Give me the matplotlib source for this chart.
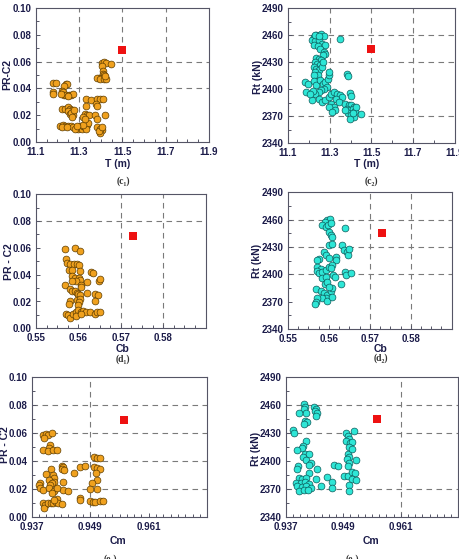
import numpy as np
import matplotlib
matplotlib.use("Agg")
import matplotlib.pyplot as plt
from matplotlib.ticker import AutoMinorLocator, FormatStrFormatter

plt.rcParams['font.family'] = ['Liberation Sans', 'DejaVu Sans']
plt.rcParams['font.weight'] = 'bold'

W, H = 459, 559

# ---- data ----
# (c1) draught T vs PR-C2
c1_T = [11.408, 11.417, 11.425, 11.448, 11.405, 11.410, 11.412, 11.417, 11.391, 11.382, 11.397, 11.417, 11.425, 11.420,
        11.178, 11.192, 11.238, 11.246, 11.232, 11.180, 11.178, 11.222, 11.228, 11.232, 11.242, 11.255, 11.265, 11.272, 11.218, 11.250,
        11.220, 11.235, 11.251, 11.258, 11.266, 11.251, 11.258, 11.274, 11.262, 11.277, 11.268,
        11.212, 11.228, 11.235, 11.251, 11.263, 11.274, 11.289, 11.297, 11.305, 11.312, 11.320, 11.328, 11.338, 11.343, 11.332,
        11.317, 11.282, 11.292, 11.220, 11.245,
        11.332, 11.354, 11.385, 11.397, 11.409, 11.378, 11.382, 11.332, 11.328, 11.338, 11.348, 11.320, 11.328, 11.374, 11.382,
        11.420, 11.385, 11.397, 11.405, 11.397, 11.391, 11.406]
c1_PR = [0.059, 0.060, 0.059, 0.058, 0.057, 0.053, 0.051, 0.050, 0.048, 0.048, 0.047, 0.047, 0.047, 0.049,
         0.044, 0.044, 0.043, 0.043, 0.042, 0.037, 0.036, 0.038, 0.037, 0.035, 0.035, 0.035, 0.035, 0.036, 0.036, 0.034,
         0.025, 0.025, 0.026, 0.025, 0.024, 0.023, 0.021, 0.020, 0.022, 0.024, 0.019,
         0.012, 0.013, 0.012, 0.012, 0.012, 0.011, 0.011, 0.010, 0.012, 0.010, 0.012, 0.011, 0.013, 0.014, 0.010,
         0.013, 0.010, 0.012, 0.011, 0.011,
         0.032, 0.031, 0.032, 0.032, 0.032, 0.028, 0.027, 0.027, 0.021, 0.020, 0.020, 0.019, 0.0175, 0.020, 0.0175,
         0.020, 0.011, 0.010, 0.009, 0.007, 0.008, 0.011]

# (c2) draught T vs resistance Rt
c2_T = [11.223, 11.234, 11.260, 11.271, 11.215, 11.231, 11.247, 11.263, 11.276, 11.223, 11.244, 11.255, 11.271, 11.279,
        11.268, 11.228, 11.250, 11.348,
        11.234, 11.247, 11.260, 11.228, 11.239, 11.255, 11.223, 11.234, 11.247, 11.231, 11.244, 11.223, 11.263, 11.266,
        11.183, 11.196, 11.186, 11.223, 11.234, 11.255, 11.266, 11.279, 11.292, 11.298, 11.298, 11.287, 11.271, 11.260,
        11.247, 11.231, 11.218, 11.250, 11.263, 11.279, 11.295, 11.308, 11.319, 11.335, 11.351, 11.359, 11.330, 11.343,
        11.308, 11.319, 11.327, 11.298, 11.311, 11.216, 11.205,
        11.375, 11.391, 11.404, 11.415, 11.383, 11.399, 11.410, 11.423, 11.388, 11.404, 11.415, 11.399, 11.375, 11.426,
        11.450, 11.410, 11.383, 11.388, 11.399, 11.404]
c2_Rt = [2457.7, 2459.6, 2461.4, 2458.8, 2454.0, 2452.9, 2454.0, 2450.3, 2449.2, 2448.5, 2447.7, 2444.0, 2441.0, 2439.2,
         2437.4, 2460.0, 2459.0, 2455.9,
         2434.4, 2433.7, 2431.8, 2430.0, 2428.1, 2427.0, 2424.4, 2422.5, 2420.7, 2418.8, 2415.9, 2415.1, 2424.4, 2430.0,
         2407.7, 2405.9, 2396.6, 2408.5, 2404.0, 2409.6, 2405.9, 2407.7, 2411.4, 2415.1, 2418.8, 2402.2, 2400.3, 2398.5,
         2396.6, 2394.8, 2397.4, 2389.2, 2385.5, 2387.4, 2391.1, 2394.8, 2396.6, 2394.8, 2392.9, 2391.1, 2389.2, 2385.5,
         2383.7, 2380.0, 2376.2, 2380.0, 2374.4, 2388.0, 2394.0,
         2383.7, 2381.8, 2382.5, 2380.0, 2378.1, 2376.2, 2377.4, 2375.1, 2373.6, 2371.4, 2368.8, 2367.0, 2376.2, 2380.0,
         2372.5, 2373.0, 2417.0, 2414.4, 2395.5, 2392.2]

# (d1) block coefficient Cb vs PR-C2
d1_Cb = [0.5568, 0.5591, 0.5603, 0.5570, 0.5572, 0.5580, 0.5589, 0.5597, 0.5602, 0.5578, 0.5586, 0.5603, 0.5630, 0.5634,
         0.5584, 0.5591, 0.5602, 0.5603, 0.5595, 0.5584, 0.5620, 0.5648, 0.5652, 0.5568, 0.5580, 0.5584, 0.5591, 0.5597,
         0.5607, 0.5605, 0.5599, 0.5603, 0.5620, 0.5638, 0.5646, 0.5639, 0.5580, 0.5578, 0.5597, 0.5603, 0.5601, 0.5599,
         0.5570, 0.5576, 0.5580, 0.5587, 0.5594, 0.5599, 0.5605, 0.5611, 0.5617, 0.5628, 0.5638, 0.5644, 0.5652, 0.5594,
         0.5607]
d1_PR = [0.0593, 0.0600, 0.0575, 0.0520, 0.0488, 0.0483, 0.0483, 0.0480, 0.0475, 0.0435, 0.0435, 0.0430, 0.0420, 0.0410,
         0.0388, 0.0375, 0.0375, 0.0360, 0.0350, 0.0350, 0.0345, 0.0355, 0.0365, 0.0320, 0.0295, 0.0280, 0.0275, 0.0260,
         0.0325, 0.0310, 0.0255, 0.0250, 0.0260, 0.0255, 0.0250, 0.0200, 0.0200, 0.0180, 0.0210, 0.0220, 0.0195, 0.0175,
         0.0110, 0.0100, 0.0075, 0.0110, 0.0125, 0.0140, 0.0125, 0.0130, 0.0125, 0.0125, 0.0110, 0.0125, 0.0125, 0.0095,
         0.0110]

# (d2) block coefficient Cb vs Rt
d2_Cb = [0.5596, 0.5602, 0.5590, 0.5584, 0.5592, 0.5598, 0.5604, 0.5600, 0.5604, 0.5608, 0.5639, 0.5600, 0.5608, 0.5588,
         0.5592, 0.5576, 0.5570, 0.5601, 0.5618, 0.5617, 0.5631, 0.5636, 0.5643, 0.5647, 0.5649, 0.5572, 0.5580, 0.5572,
         0.5576, 0.5584, 0.5592, 0.5599, 0.5608, 0.5604, 0.5582, 0.5592, 0.5610, 0.5615, 0.5640, 0.5641, 0.5653, 0.5629,
         0.5590, 0.5596, 0.5568, 0.5580, 0.5588, 0.5596, 0.5604, 0.5608, 0.5600, 0.5592, 0.5582, 0.5572, 0.5568, 0.5566,
         0.5596, 0.5607]
d2_Rt = [2460.0, 2461.0, 2457.5, 2454.0, 2452.0, 2454.0, 2456.0, 2446.6, 2443.0, 2441.0, 2451.0, 2432.0, 2433.8, 2424.7,
         2421.0, 2416.6, 2415.5, 2418.0, 2419.0, 2415.5, 2432.0, 2426.5, 2424.7, 2421.0, 2428.0, 2408.0, 2406.0, 2403.5,
         2401.0, 2402.0, 2404.6, 2408.0, 2410.0, 2406.4, 2395.5, 2397.3, 2399.0, 2397.3, 2402.0, 2399.0, 2401.0, 2389.0,
         2389.0, 2391.8, 2383.8, 2381.6, 2379.0, 2377.2, 2381.6, 2384.5, 2386.4, 2373.6, 2374.3, 2373.6, 2370.0, 2367.0,
         2370.7, 2375.4]

# (e1) midship coefficient Cm vs PR-C2
e1_Cm = [0.9394, 0.9400, 0.9404, 0.9411, 0.9396, 0.9408, 0.9406, 0.9393, 0.9404, 0.9413, 0.9421, 0.9432, 0.9435, 0.9432,
         0.9437, 0.9410, 0.9399, 0.9413, 0.9415, 0.9406, 0.9416, 0.9411, 0.9408, 0.9386, 0.9384, 0.9386, 0.9394, 0.9406,
         0.9416, 0.9411, 0.9435, 0.9435, 0.9445, 0.9421, 0.9457, 0.9469, 0.9480, 0.9394, 0.9397, 0.9396, 0.9404, 0.9409,
         0.9413, 0.9419, 0.9421, 0.9424, 0.9433, 0.9416, 0.9468, 0.9469, 0.9489, 0.9495, 0.9500, 0.9510, 0.9517, 0.9498,
         0.9504, 0.9510, 0.9498, 0.9504, 0.9509, 0.9501, 0.9503, 0.9494, 0.9503, 0.9490]
e1_PR = [0.0582, 0.0594, 0.0587, 0.0599, 0.0563, 0.0515, 0.0492, 0.0480, 0.0475, 0.0480, 0.0480, 0.0368, 0.0356, 0.0344,
         0.0333, 0.0344, 0.0309, 0.0302, 0.0278, 0.0266, 0.0254, 0.0242, 0.0230, 0.0242, 0.0230, 0.0207, 0.0195, 0.0207,
         0.0190, 0.0171, 0.0254, 0.0195, 0.0190, 0.0207, 0.0314, 0.0361, 0.0368, 0.0105, 0.0088, 0.0069, 0.0100, 0.0105,
         0.0100, 0.0112, 0.0128, 0.0100, 0.0095, 0.0124, 0.0135, 0.0124, 0.0119, 0.0112, 0.0112, 0.0119, 0.0119, 0.0428,
         0.0425, 0.0420, 0.0361, 0.0349, 0.0342, 0.0314, 0.0266, 0.0247, 0.0200, 0.0200]

# (e2) midship coefficient Cm vs Rt
e2_Cm = [0.9408, 0.9410, 0.9408, 0.9412, 0.9398, 0.9429, 0.9434, 0.9431, 0.9436, 0.9434, 0.9410, 0.9415, 0.9408, 0.9385,
         0.9387, 0.9413, 0.9406, 0.9403, 0.9394, 0.9410, 0.9419, 0.9406, 0.9413, 0.9422, 0.9419, 0.9396, 0.9394, 0.9436,
         0.9419, 0.9398, 0.9405, 0.9413, 0.9434, 0.9457, 0.9391, 0.9401, 0.9410, 0.9419, 0.9394, 0.9405, 0.9413, 0.9422,
         0.9398, 0.9408, 0.9417, 0.9443, 0.9467, 0.9467, 0.9471, 0.9480, 0.9495, 0.9499, 0.9502, 0.9495, 0.9504, 0.9509,
         0.9513, 0.9499, 0.9502, 0.9497, 0.9501, 0.9499, 0.9516, 0.9492, 0.9499, 0.9509, 0.9514, 0.9509, 0.9516, 0.9501,
         0.9501, 0.9502, 0.9508]
e2_Rt = [2461.2, 2458.7, 2455.8, 2452.2, 2451.5, 2458.7, 2456.5, 2454.0, 2452.2, 2448.6, 2443.2, 2442.2, 2439.6, 2433.2,
         2430.6, 2421.7, 2416.3, 2414.5, 2411.6, 2408.3, 2408.3, 2404.7, 2401.9, 2398.3, 2395.8, 2394.7, 2391.8, 2391.8,
         2387.5, 2382.0, 2381.0, 2382.0, 2381.0, 2382.8, 2376.7, 2376.7, 2377.4, 2376.0, 2373.0, 2372.4, 2373.0, 2371.3,
         2367.7, 2368.8, 2369.5, 2373.0, 2377.4, 2371.3, 2396.5, 2395.4, 2430.6, 2427.0, 2423.5, 2421.7, 2419.9, 2420.6,
         2432.4, 2407.3, 2404.7, 2402.6, 2398.3, 2394.7, 2401.2, 2384.6, 2383.9, 2388.2, 2387.5, 2381.0, 2380.3, 2374.9,
         2367.7, 2415.5, 2412.7]

# selected design (red square)
best_T, best_Cb, best_Cm = 11.5, 0.5729, 0.956
best_PR, best_Rt = 0.069, 2445

T_ticks = [11.1, 11.3, 11.5, 11.7, 11.9]
Cb_ticks = [0.55, 0.56, 0.57, 0.58]
Cm_ticks = [0.937, 0.949, 0.961]
PR_ticks = [0.00, 0.02, 0.04, 0.06, 0.08, 0.10]
Rt_ticks = [2340, 2370, 2400, 2430, 2460, 2490]

TXT = '#1c1c4a'
ORANGE, ORANGE_EDGE = '#f0a11e', '#5c3c00'
CYAN, CYAN_EDGE = '#2ee6d6', '#0c5a5a'


def rect(l, t, r, b):
    return [l / W, 1 - b / H, (r - l) / W, (b - t) / H]


def fig_txt(fig, px, py, s, **kw):
    fig.text(px / W, 1 - py / H, s, ha='center', va='center', **kw)


fig = plt.figure(figsize=(W / 100, H / 100), dpi=100)

panels = [
    # box, x, y, best, xticks, xlim, xfmt, yticks, ylim, yfmt, vgrid, hgrid, colors, xminor
    (rect(35.7, 8, 209, 142), c1_T, c1_PR, (best_T, best_PR), T_ticks, (11.1, 11.9), '%.1f',
     PR_ticks, (0, 0.1), '%.2f', [11.3, 11.5, 11.7], [0.04, 0.06], (ORANGE, ORANGE_EDGE), 4),
    (rect(288, 8, 454.7, 143), c2_T, c2_Rt, (best_T, best_Rt), T_ticks, (11.1, 11.9), '%.1f',
     Rt_ticks, (2340, 2490), '%d', [11.3, 11.5, 11.7], [2370, 2430, 2460], (CYAN, CYAN_EDGE), 2),
    (rect(36, 194.3, 205.7, 328.3), d1_Cb, d1_PR, (best_Cb, best_PR), Cb_ticks, (0.55, 0.59), '%.2f',
     PR_ticks, (0, 0.1), '%.2f', [0.57, 0.58], [0.08], (ORANGE, ORANGE_EDGE), 4),
    (rect(288, 192.3, 451.7, 329), d2_Cb, d2_Rt, (best_Cb, best_Rt), Cb_ticks, (0.55, 0.59), '%.2f',
     Rt_ticks, (2340, 2490), '%d', [0.57, 0.58], [2400, 2430, 2460], (CYAN, CYAN_EDGE), 4),
    (rect(31.7, 376.7, 207.3, 517.3), e1_Cm, e1_PR, (best_Cm, best_PR), Cm_ticks, (0.937, 0.973), '%.3f',
     PR_ticks, (0, 0.1), '%.2f', [0.949], [0.02, 0.04, 0.06, 0.08], (ORANGE, ORANGE_EDGE), 8),
    (rect(285.7, 377.3, 458.3, 517.3), e2_Cm, e2_Rt, (best_Cm, best_Rt), Cm_ticks, (0.937, 0.973), '%.3f',
     Rt_ticks, (2340, 2490), '%d', [0.961], [2370, 2430, 2460], (CYAN, CYAN_EDGE), 8),
]

for (box, xs, ys, best, xt, xl, xf, yt, yl, yf, vg, hg, cols, xminor) in panels:
    ax = fig.add_axes(box)
    for v in vg:
        ax.axvline(v, color='#7a7a7a', lw=0.8, ls=(0, (5, 4)), zorder=1)
    for h in hg:
        ax.axhline(h, color='#7a7a7a', lw=0.8, ls=(0, (5, 4)), zorder=1)
    ax.scatter(xs, ys, s=24, c=cols[0], edgecolors=cols[1], linewidths=0.5, zorder=3)
    ax.scatter([best[0]], [best[1]], s=28, marker='s', c='#ee1111', linewidths=0, zorder=4)
    ax.set_xlim(*xl)
    ax.set_ylim(*yl)
    ax.set_xticks(xt)
    ax.set_yticks(yt)
    ax.xaxis.set_major_formatter(FormatStrFormatter(xf))
    ax.yaxis.set_major_formatter(FormatStrFormatter(yf))
    ax.xaxis.set_minor_locator(AutoMinorLocator(xminor))
    ax.yaxis.set_minor_locator(AutoMinorLocator(2))
    ax.tick_params(which='both', direction='in', colors='#555566', labelcolor=TXT,
                   labelsize=7, width=0.7)
    ax.tick_params(which='major', length=3)
    ax.tick_params(axis='x', which='major', pad=3.5)
    ax.tick_params(axis='y', which='major', pad=3)
    ax.tick_params(which='minor', length=2)
    for lab in ax.get_xticklabels() + ax.get_yticklabels():
        lab.set_fontweight('bold')
    for sp in ax.spines.values():
        sp.set_color('#555566')
        sp.set_linewidth(0.8)

lab_kw = dict(fontsize=7.5, fontweight='bold', color=TXT)
cap_kw = dict(fontsize=7, color='#333333', family=['Liberation Serif', 'DejaVu Serif'])

# axis titles
fig_txt(fig, 7, 75, 'PR-C2', rotation=90, **lab_kw)
fig_txt(fig, 118, 164, 'T (m)', **lab_kw)
fig_txt(fig, 258, 77, 'Rt (kN)', rotation=90, **lab_kw)
fig_txt(fig, 367, 164, 'T (m)', **lab_kw)
fig_txt(fig, 9, 262, 'PR - C2', rotation=90, **lab_kw)
fig_txt(fig, 123, 349, 'Cb', **lab_kw)
fig_txt(fig, 257, 261, 'Rt (kN)', rotation=90, **lab_kw)
fig_txt(fig, 381, 349, 'Cb', **lab_kw)
fig_txt(fig, 5, 445, 'PR - C2', rotation=90, **lab_kw)
fig_txt(fig, 118, 541, 'Cm', **lab_kw)
fig_txt(fig, 256, 449, 'Rt (kN)', rotation=90, **lab_kw)
fig_txt(fig, 371, 541, 'Cm', **lab_kw)

# panel captions
fig_txt(fig, 123, 181, '(c\u2081)', **cap_kw)
fig_txt(fig, 371, 181, '(c\u2082)', **cap_kw)
fig_txt(fig, 123, 359, '(d\u2081)', **cap_kw)
fig_txt(fig, 381, 358, '(d\u2082)', **cap_kw)
fig_txt(fig, 110, 559, '(e\u2081)', **cap_kw)
fig_txt(fig, 352, 559, '(e\u2082)', **cap_kw)

fig.savefig('out.png', dpi=100)
